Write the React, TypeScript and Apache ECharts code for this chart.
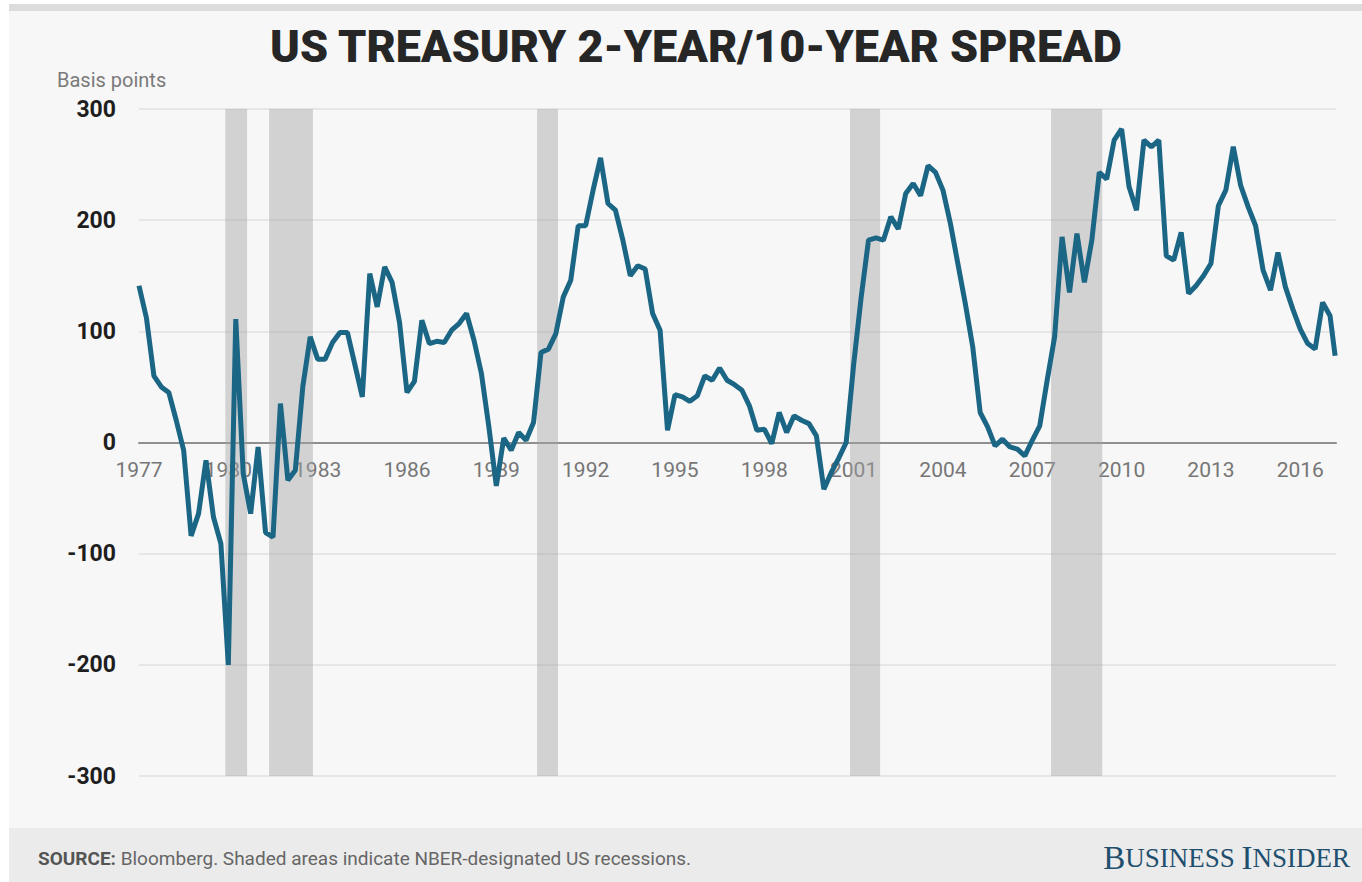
import React, { useEffect, useRef } from "react";
import * as echarts from "echarts";

// Quarterly 2-year/10-year spread, basis points, starting 1977 Q1
const startYear = 1977;
const spreadValues = [
  141, 112, 60, 50, // 1977
  45, 20, -7, -84, // 1978
  -64, -16, -67, -91, // 1979
  -200, 111, -28, -64, // 1980
  -4, -81, -85, 35, // 1981
  -34, -25, 50, 95, // 1982
  75, 75, 90, 99, // 1983
  99, 70, 41, 152, // 1984
  122, 158, 144, 108, // 1985
  45, 55, 110, 89, // 1986
  91, 90, 101, 107, // 1987
  116, 92, 62, 14, // 1988
  -39, 4, -7, 9, // 1989
  2, 18, 81, 84, // 1990
  98, 131, 146, 195, // 1991
  195, 227, 256, 215, // 1992
  209, 182, 150, 159, // 1993
  156, 116, 101, 11, // 1994
  43, 41, 37, 42, // 1995
  60, 56, 67, 56, // 1996
  52, 47, 33, 11, // 1997
  12, -1, 27, 9, // 1998
  24, 20, 17, 6, // 1999
  -42, -27, -14, 0, // 2000
  70, 130, 182, 184, // 2001
  182, 203, 192, 224, // 2002
  233, 222, 249, 243, // 2003
  227, 197, 161, 125, // 2004
  86, 27, 14, -3, // 2005
  3, -4, -6, -12, // 2006
  2, 15, 56, 95, // 2007
  185, 135, 188, 144, // 2008
  182, 243, 237, 272, // 2009
  282, 230, 209, 272, // 2010
  266, 272, 168, 164, // 2011
  189, 134, 141, 150, // 2012
  161, 213, 227, 266, // 2013
  231, 212, 195, 155, // 2014
  137, 171, 140, 120, // 2015
  102, 89, 84, 126, // 2016
  114, // 2017 Q1
];
const lastDate = 2017.17;
const lastValue = 78;

// NBER recessions (fractional years)
const recessionStarts = [1979.9, 1981.37, 1990.37, 2000.88, 2007.63];
const recessionEnds = [1980.63, 1982.84, 1991.07, 2001.89, 2009.35];

const xMin = 1977;
const xMax = 2017.2;
const xInterval = 3;
const yMin = -300;
const yMax = 300;
const yInterval = 100;

const titleText = "US TREASURY 2-YEAR/10-YEAR SPREAD";
const unitText = "Basis points";
const sourceLabel = "SOURCE:";
const sourceText = " Bloomberg. Shaded areas indicate NBER-designated US recessions.";

const gridTop = 109;
const gridBottom = 106;
const chartHeight = 882;

export default function App() {
  const ref = useRef<HTMLDivElement>(null);

  useEffect(() => {
    if (!ref.current) return;
    const chart = echarts.init(ref.current, null, { renderer: "svg" });
    const seriesData: [number, number][] = spreadValues.map((v, i) => [
      startYear + i * 0.25,
      v,
    ]);
    seriesData.push([lastDate, lastValue]);

    const plotHeight = chartHeight - gridTop - gridBottom;
    // move the x axis (line + labels) up to the zero line
    const zeroOffset = -(plotHeight * (0 - yMin)) / (yMax - yMin);

    chart.setOption({
      animation: false,
      backgroundColor: "transparent",
      grid: { left: 139, right: 26, top: gridTop, bottom: gridBottom },
      xAxis: {
        type: "value",
        min: xMin,
        max: xMax,
        interval: xInterval,
        position: "bottom",
        offset: zeroOffset,
        axisLine: {
          show: true,
          onZero: false,
          lineStyle: { color: "#8f8f8f", width: 2 },
        },
        axisTick: { show: false },
        splitLine: { show: false },
        axisLabel: {
          color: "#767676",
          fontSize: 21,
          fontFamily: "Roboto",
          margin: 17,
          showMaxLabel: false,
          formatter: (v: number) => String(Math.round(v)),
        },
      },
      yAxis: {
        type: "value",
        min: yMin,
        max: yMax,
        interval: yInterval,
        axisLine: { show: false },
        axisTick: { show: false },
        splitLine: { lineStyle: { color: "#e0e0e0", width: 1.5 } },
        axisLabel: {
          color: "#1e1e1e",
          fontSize: 23,
          fontWeight: "bold",
          fontFamily: "Roboto",
          margin: 23,
        },
      },
      series: [
        {
          type: "line",
          data: seriesData,
          symbol: "none",
          lineStyle: { color: "#1b6585", width: 5 },
          z: 3,
          markArea: {
            silent: true,
            itemStyle: { color: "rgba(165,165,165,0.45)" },
            data: recessionStarts.map((s, i) => [
              { xAxis: s },
              { xAxis: recessionEnds[i] },
            ]),
          },
        },
      ],
      graphic: [
        {
          type: "text",
          x: 696,
          y: 46,
          style: {
            text: titleText,
            fontSize: 45,
            fontWeight: 900,
            fontFamily: "Roboto",
            fill: "#262626",
            textAlign: "center",
            textVerticalAlign: "middle",
          },
        },
        {
          type: "text",
          x: 57,
          y: 80,
          style: {
            text: unitText,
            fontSize: 20,
            fontFamily: "Roboto",
            fill: "#7a7a7a",
            textAlign: "left",
            textVerticalAlign: "middle",
          },
        },
        {
          type: "text",
          x: 38,
          y: 858,
          style: {
            text: "{b|" + sourceLabel + "}{n|" + sourceText + "}",
            textAlign: "left",
            textVerticalAlign: "middle",
            rich: {
              b: {
                fontSize: 19,
                fontWeight: "bold",
                fontFamily: "Roboto",
                fill: "#555555",
              },
              n: {
                fontSize: 19,
                fontFamily: "Roboto",
                fill: "#666666",
              },
            },
          },
        },
        {
          type: "text",
          x: 1350,
          y: 858,
          style: {
            text: "{big|B}{sm|USINESS }{big|I}{sm|NSIDER}",
            textAlign: "right",
            textVerticalAlign: "middle",
            rich: {
              big: {
                fontSize: 33,
                fontFamily: "Liberation Serif",
                fill: "#1f4f6e",
              },
              sm: {
                fontSize: 27,
                fontFamily: "Liberation Serif",
                fill: "#1f4f6e",
              },
            },
          },
        },
      ],
    });
    return () => chart.dispose();
  }, []);

  return (
    <div
      style={{
        position: "absolute",
        left: 0,
        top: 0,
        width: 1362,
        height: 882,
        background: "#ffffff",
        overflow: "hidden",
      }}
    >
      <div
        style={{
          position: "absolute",
          left: 9,
          top: 4,
          width: 1353,
          height: 7,
          background: "#dcdcdc",
        }}
      />
      <div
        style={{
          position: "absolute",
          left: 9,
          top: 11,
          width: 1353,
          height: 817,
          background: "#f7f7f7",
        }}
      />
      <div
        style={{
          position: "absolute",
          left: 9,
          top: 828,
          width: 1353,
          height: 54,
          background: "#ebebeb",
        }}
      />
      <div
        ref={ref}
        style={{ position: "absolute", left: 0, top: 0, width: 1362, height: 882 }}
      />
    </div>
  );
}
